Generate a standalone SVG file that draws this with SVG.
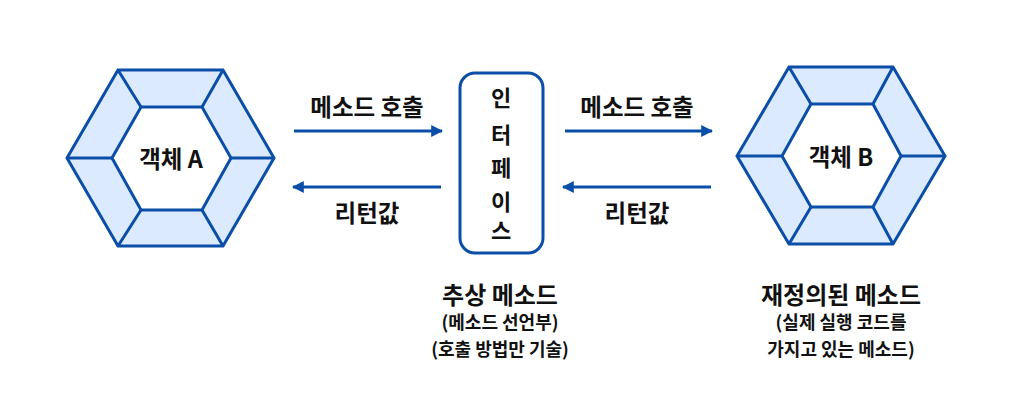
<svg xmlns="http://www.w3.org/2000/svg" width="1025" height="405" viewBox="0 0 1025 405">
<defs>
<style>
.hex{fill:#dbeafe;stroke:#0b4ea8;stroke-width:3;stroke-linejoin:miter}
.inner{fill:#ffffff;stroke:#0b4ea8;stroke-width:3}
.spoke{stroke:#0b4ea8;stroke-width:3;fill:none}
.box{fill:#ffffff;stroke:#0b4ea8;stroke-width:3}
.conn{stroke:#0b4ea8;stroke-width:3;fill:none}
text{font-family:"Noto Sans CJK KR","Noto Sans",sans-serif;fill:#111111;text-anchor:middle;dominant-baseline:central}
.lbl{font-size:23.5px;font-weight:600}
.vert{font-size:22px;font-weight:600}
.big{font-size:24px;font-weight:700}
.small{font-size:18px;font-weight:600}
</style>
<marker id="ah" viewBox="0 0 10 10" refX="9" refY="5" markerWidth="4" markerHeight="4" orient="auto" markerUnits="strokeWidth">
<path d="M0,0 L10,5 L0,10 z" fill="#0b4ea8"/>
</marker>
</defs>
<g id="objA">
<polygon class="hex" points="67,158 118,70 223,70 274,158 223,246 118,246"/>
<polygon class="inner" points="112,158 141,107 202,107 231,158 202,210 141,210"/>
<path class="spoke" d="M67,158H112M118,70L141,107M223,70L202,107M274,158H231M223,246L202,210M118,246L141,210"/>
<text class="lbl" x="171" y="158">객체 A</text>
</g>
<g id="interface">
<rect class="box" x="460" y="73" width="83" height="180" rx="15" ry="15"/>
<text class="vert" x="501" y="96">인</text>
<text class="vert" x="501" y="133">터</text>
<text class="vert" x="501" y="166">페</text>
<text class="vert" x="501" y="200">이</text>
<text class="vert" x="501" y="229">스</text>
</g>
<g id="objB">
<polygon class="hex" points="737,156 789,67 893,67 945,156 893,244 789,244"/>
<polygon class="inner" points="782,156 811,104 873,104 901,156 873,207 811,207"/>
<path class="spoke" d="M737,156H782M789,67L811,104M893,67L873,104M945,156H901M893,244L873,207M789,244L811,207"/>
<text class="lbl" x="841" y="156">객체 B</text>
</g>
<g id="connectors">
<line class="conn" x1="294" y1="131" x2="442" y2="131" marker-end="url(#ah)"/>
<line class="conn" x1="441" y1="187" x2="293" y2="187" marker-end="url(#ah)"/>
<line class="conn" x1="565" y1="131" x2="712" y2="131" marker-end="url(#ah)"/>
<line class="conn" x1="711" y1="187" x2="563" y2="187" marker-end="url(#ah)"/>
<text class="lbl" x="367" y="106">메소드 호출</text>
<text class="lbl" x="367" y="212">리턴값</text>
<text class="lbl" x="637" y="106">메소드 호출</text>
<text class="lbl" x="637" y="212">리턴값</text>
</g>
<g id="captionA">
<text class="big" x="500" y="293">추상 메소드</text>
<text class="small" x="500" y="321">(메소드 선언부)</text>
<text class="small" x="500" y="348">(호출 방법만 기술)</text>
</g>
<g id="captionB">
<text class="big" x="841" y="293">재정의된 메소드</text>
<text class="small" x="841" y="321">(실제 실행 코드를</text>
<text class="small" x="841" y="348">가지고 있는 메소드)</text>
</g>
</svg>
